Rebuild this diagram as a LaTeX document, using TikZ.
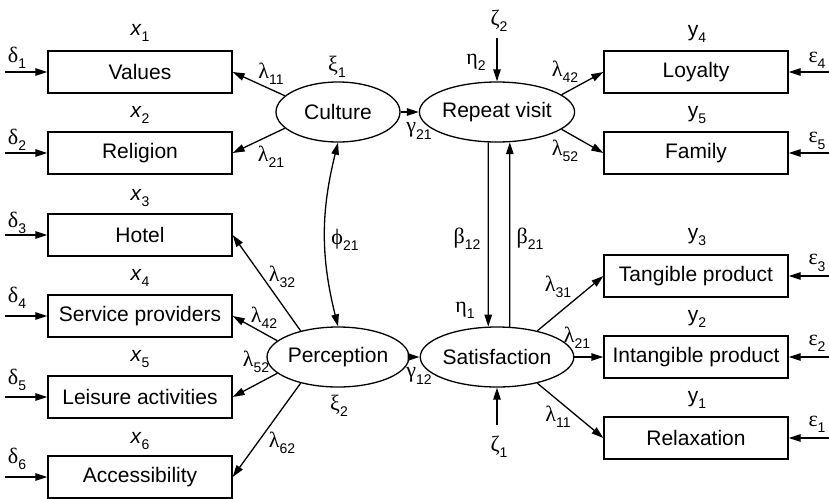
\documentclass[tikz,border=0pt]{standalone}
\usepackage{fontspec}
\setmainfont{Liberation Sans}
\newfontfamily\gk{Liberation Serif}
\usetikzlibrary{arrows.meta,shapes.geometric}
\newcommand\sbs[1]{\raisebox{-0.3em}{\fontsize{14}{14}\selectfont #1}}
\newcommand\gl[2]{{\gk\fontsize{22}{25}\selectfont #1}\sbs{#2}}
\begin{document}
\begin{tikzpicture}[x=1pt,y=-1pt,line width=1.3pt,
  >={Triangle[length=12pt,width=7.5pt]},
  box/.style={draw,minimum width=184pt,minimum height=42pt,inner sep=0pt,font=\fontsize{21}{25}\selectfont},
  lat/.style={draw,ellipse,minimum width=124pt,minimum height=60pt,inner sep=0pt,font=\fontsize{21}{25}\selectfont},
  lab/.style={inner sep=0pt,font=\fontsize{21}{25}\selectfont}]
\useasboundingbox (0,0) rectangle (829,498);
% boxes left
\node[box] (Values) at (140,72) {Values};
\node[box] (Religion) at (140,153) {Religion};
\node[box] (Hotel) at (140,235) {Hotel};
\node[box] (Service) at (140,316) {Service providers};
\node[box] (Leisure) at (140,397) {Leisure activities};
\node[box] (Access) at (140,477) {Accessibility};
% boxes right
\node[box] (Loyalty) at (696,72) {Loyalty};
\node[box] (Family) at (696,153) {Family};
\node[box] (Tangible) at (696,276) {Tangible product};
\node[box] (Intangible) at (696,357) {Intangible product};
\node[box] (Relax) at (696,438) {Relaxation};
% latent
\node[lat] (Culture) at (338,112) {Culture};
\node[lat] (Repeat) at (497,112) {Repeat visit};
\node[lat] (Perception) at (338,357) {Perception};
\node[lat] (Satisfaction) at (497,357) {Satisfaction};
% x labels
\node[lab] (x1) at (140,33) {\textit{x}\sbs{1}};
\node[lab] (x2) at (140,115) {\textit{x}\sbs{2}};
\node[lab] (x3) at (140,198) {\textit{x}\sbs{3}};
\node[lab] (x4) at (140,278) {\textit{x}\sbs{4}};
\node[lab] (x5) at (140,359) {\textit{x}\sbs{5}};
\node[lab] (x6) at (140,441) {\textit{x}\sbs{6}};
% y labels
\node[lab] (y4) at (697,34) {y\sbs{4}};
\node[lab] (y5) at (697,115) {y\sbs{5}};
\node[lab] (y3) at (697,237) {y\sbs{3}};
\node[lab] (y2) at (697,319) {y\sbs{2}};
\node[lab] (y1) at (697,400) {y\sbs{1}};
% delta
\node[lab] (dl1) at (17,58) {\gl{δ}{1}};
\node[lab] (dl2) at (17,140) {\gl{δ}{2}};
\node[lab] (dl3) at (17,223) {\gl{δ}{3}};
\node[lab] (dl4) at (17,298) {\gl{δ}{4}};
\node[lab] (dl5) at (17,380) {\gl{δ}{5}};
\node[lab] (dl6) at (17,459) {\gl{δ}{6}};
\coordinate (d1) at (5,72);
\coordinate (d2) at (5,153);
\coordinate (d3) at (5,235);
\coordinate (d4) at (5,316);
\coordinate (d5) at (5,397);
\coordinate (d6) at (5,477);
\draw[->] (d1) -- (Values.west);
\draw[->] (d2) -- (Religion.west);
\draw[->] (d3) -- (Hotel.west);
\draw[->] (d4) -- (Service.west);
\draw[->] (d5) -- (Leisure.west);
\draw[->] (d6) -- (Access.west);
% epsilon
\node[lab] (el4) at (817,60) {\gl{ε}{4}};
\node[lab] (el5) at (817,141) {\gl{ε}{5}};
\node[lab] (el3) at (817,263) {\gl{ε}{3}};
\node[lab] (el2) at (817,343) {\gl{ε}{2}};
\node[lab] (el1) at (817,424) {\gl{ε}{1}};
\coordinate (e4) at (829,72);
\coordinate (e5) at (829,153);
\coordinate (e3) at (829,276);
\coordinate (e2) at (829,357);
\coordinate (e1) at (829,438);
\draw[->] (e4) -- (Loyalty.east);
\draw[->] (e5) -- (Family.east);
\draw[->] (e3) -- (Tangible.east);
\draw[->] (e2) -- (Intangible.east);
\draw[->] (e1) -- (Relax.east);
% loadings
\draw[->] (Culture.163) -- (Values.east);
\draw[->] (Culture.197) -- (Religion.east);
\draw[->] (Perception.145) -- (Hotel.east);
\draw[->] (Perception.165) -- (Service.east);
\draw[->] (Perception.195) -- (Leisure.east);
\draw[->] (Perception.215) -- (Access.east);
\draw[->] (Repeat.15) -- (Loyalty.west);
\draw[->] (Repeat.-15) -- (Family.west);
\draw[->] (Satisfaction.33) -- (Tangible.west);
\draw[->] (Satisfaction.east) -- (Intangible.west);
\draw[->] (Satisfaction.-33) -- (Relax.west);
% structural
\draw[->] (Culture.east) -- (Repeat.west);
\draw[->] (Perception.east) -- (Satisfaction.west);
\draw[<->] (Culture.south) to[bend right=14] (Perception.north);
\draw[->] (Repeat.-106.9) -- (Satisfaction.106.9);
\draw[->] (Satisfaction.67.8) -- (Repeat.-67.8);
\coordinate (z2s) at (497,38);
\coordinate (z1s) at (497,425);
\draw[->] (z2s) -- (Repeat.north);
\draw[->] (z1s) -- (Satisfaction.south);
% labels
\node[lab] (l11) at (271,74) {\gl{λ}{11}};
\node[lab] (l21) at (271,157) {\gl{λ}{21}};
\node[lab] (xi1) at (337,67) {\gl{ξ}{1}};
\node[lab] (g21) at (419,131) {\gl{γ}{21}};
\node[lab] (eta2) at (476,62) {\gl{η}{2}};
\node[lab] (zeta2) at (499,21) {\gl{ζ}{2}};
\node[lab] (l42r) at (565,72) {\gl{λ}{42}};
\node[lab] (l52r) at (565,151) {\gl{λ}{52}};
\node[lab] (phi) at (345,240) {\gl{ϕ}{21}};
\node[lab] (b12) at (467,239) {\gl{β}{12}};
\node[lab] (b21) at (530,239) {\gl{β}{21}};
\node[lab] (l32) at (282,277) {\gl{λ}{32}};
\node[lab] (l42) at (264,318) {\gl{λ}{42}};
\node[lab] (l52) at (256,362) {\gl{λ}{52}};
\node[lab] (l62) at (282,443) {\gl{λ}{62}};
\node[lab] (xi2) at (339,406) {\gl{ξ}{2}};
\node[lab] (g12) at (419,376) {\gl{γ}{12}};
\node[lab] (eta1) at (465,310) {\gl{η}{1}};
\node[lab] (zeta1) at (499,447) {\gl{ζ}{1}};
\node[lab] (l31) at (558,287) {\gl{λ}{31}};
\node[lab] (l21r) at (577,338) {\gl{λ}{21}};
\node[lab] (l11r) at (558,417) {\gl{λ}{11}};
\end{tikzpicture}
\end{document}
